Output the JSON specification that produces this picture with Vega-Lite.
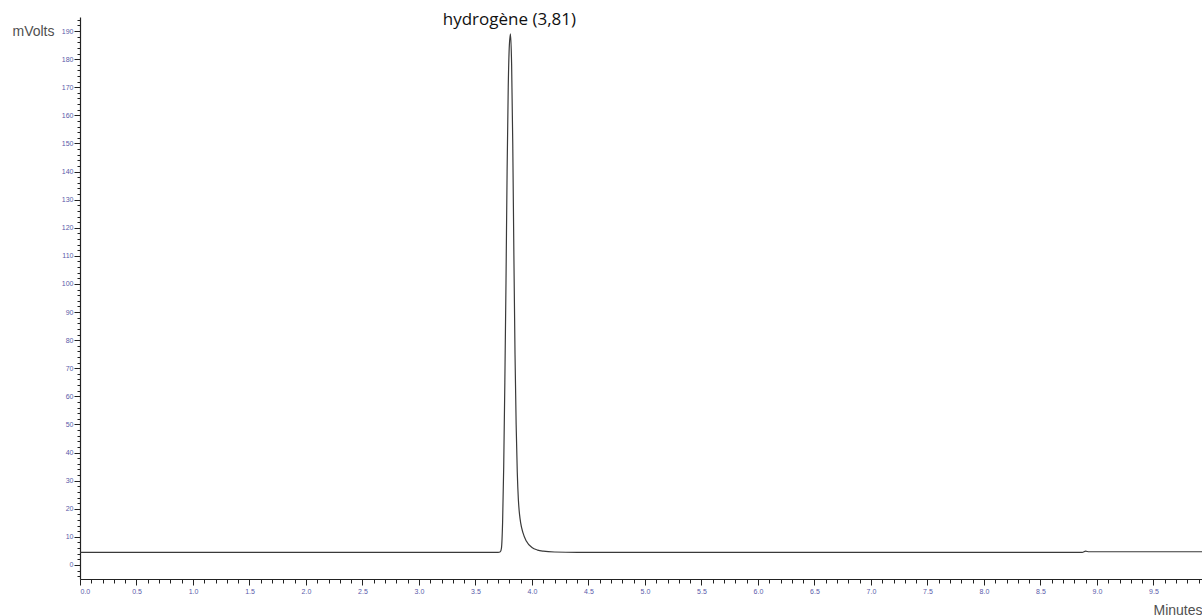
{
  "$schema": "https://vega.github.io/schema/vega-lite/v6.json",
  "width": 1122,
  "height": 562,
  "autosize": "none",
  "padding": {"left": 80, "top": 17, "right": 0, "bottom": 37},
  "background": "white",
  "config": {"view": {"stroke": null}},
  "datasets": {"trace": [
    {"t": 0.0, "mv": 4.5},
    {"t": 1.0, "mv": 4.5},
    {"t": 2.0, "mv": 4.5},
    {"t": 3.0, "mv": 4.5},
    {"t": 3.7, "mv": 4.5},
    {"t": 3.72, "mv": 4.7},
    {"t": 3.73, "mv": 6},
    {"t": 3.74, "mv": 15},
    {"t": 3.75, "mv": 35},
    {"t": 3.76, "mv": 65},
    {"t": 3.77, "mv": 100},
    {"t": 3.78, "mv": 140},
    {"t": 3.79, "mv": 170},
    {"t": 3.80, "mv": 185},
    {"t": 3.81, "mv": 189},
    {"t": 3.82, "mv": 178},
    {"t": 3.83, "mv": 150},
    {"t": 3.84, "mv": 110},
    {"t": 3.85, "mv": 75},
    {"t": 3.86, "mv": 50},
    {"t": 3.87, "mv": 33},
    {"t": 3.88, "mv": 23},
    {"t": 3.89, "mv": 18},
    {"t": 3.90, "mv": 15},
    {"t": 3.92, "mv": 11.5},
    {"t": 3.95, "mv": 8.5},
    {"t": 4.0, "mv": 6.2},
    {"t": 4.05, "mv": 5.3},
    {"t": 4.1, "mv": 4.9},
    {"t": 4.2, "mv": 4.6},
    {"t": 4.4, "mv": 4.5},
    {"t": 6.0, "mv": 4.5},
    {"t": 8.0, "mv": 4.5},
    {"t": 8.87, "mv": 4.5},
    {"t": 8.9, "mv": 4.9},
    {"t": 8.93, "mv": 4.7},
    {"t": 9.93, "mv": 4.7}
  ],
  "labels": [{"t": 3.80, "mv": 194, "label": "hydrogène (3,81)"}]},
  "layer": [
    {
      "data": {"name": "trace"},
      "mark": {"type": "line", "opacity": 0},
      "encoding": {
        "x": {"field": "t", "type": "quantitative",
          "scale": {"domain": [0, 9.93], "nice": false, "zero": false},
          "axis": {"orient": "bottom", "title": null, "labels": false, "domain": false, "grid": false,
            "values": [0.1,0.2,0.3,0.4,0.6,0.7,0.8,0.9,1.1,1.2,1.3,1.4,1.6,1.7,1.8,1.9,2.1,2.2,2.3,2.4,2.6,2.7,2.8,2.9,3.1,3.2,3.3,3.4,3.6,3.7,3.8,3.9,4.1,4.2,4.3,4.4,4.6,4.7,4.8,4.9,5.1,5.2,5.3,5.4,5.6,5.7,5.8,5.9,6.1,6.2,6.3,6.4,6.6,6.7,6.8,6.9,7.1,7.2,7.3,7.4,7.6,7.7,7.8,7.9,8.1,8.2,8.3,8.4,8.6,8.7,8.8,8.9,9.1,9.2,9.3,9.4,9.6,9.7,9.8,9.9],
            "tickSize": 4, "tickColor": "#222", "tickWidth": 1}},
        "y": {"field": "mv", "type": "quantitative",
          "scale": {"domain": [-5, 195], "nice": false, "zero": false},
          "axis": {"orient": "left", "title": null, "labels": false, "domain": false, "grid": false,
            "values": [-4,-2,2,4,6,8,12,14,16,18,22,24,26,28,32,34,36,38,42,44,46,48,52,54,56,58,62,64,66,68,72,74,76,78,82,84,86,88,92,94,96,98,102,104,106,108,112,114,116,118,122,124,126,128,132,134,136,138,142,144,146,148,152,154,156,158,162,164,166,168,172,174,176,178,182,184,186,188,192,194],
            "tickSize": 3, "tickColor": "#222", "tickWidth": 1}}
      }
    },
    {
      "data": {"name": "trace"},
      "mark": {"type": "line", "color": "#3a3a3a", "strokeWidth": 1.2, "interpolate": "monotone"},
      "encoding": {
        "x": {"field": "t", "type": "quantitative",
          "axis": {"orient": "bottom", "grid": false,
            "values": [0,0.5,1,1.5,2,2.5,3,3.5,4,4.5,5,5.5,6,6.5,7,7.5,8,8.5,9,9.5],
            "format": ".1f", "tickSize": 6, "tickColor": "#222", "domainColor": "#222", "domainWidth": 1.2,
            "labelFont": "Liberation Sans", "labelFontSize": 7, "labelColor": "#5a5aaa", "labelPadding": 2,
            "title": "Minutes", "titleFont": "Liberation Sans", "titleFontSize": 14, "titleFontWeight": "normal",
            "titleColor": "#505050", "titleAnchor": null, "titleX": 1122, "titleY": 31, "titleAlign": "right", "titleBaseline": "middle"}},
        "y": {"field": "mv", "type": "quantitative",
          "axis": {"orient": "left", "grid": false,
            "values": [0,10,20,30,40,50,60,70,80,90,100,110,120,130,140,150,160,170,180,190],
            "tickSize": 6, "tickColor": "#222", "domainColor": "#222", "domainWidth": 1.2,
            "labelFont": "Liberation Sans", "labelFontSize": 7, "labelColor": "#5a5aaa", "labelPadding": 1,
            "title": "mVolts", "titleFont": "Liberation Sans", "titleFontSize": 14, "titleFontWeight": "normal",
            "titleColor": "#505050", "titleAngle": 0, "titleX": -47, "titleY": 14, "titleAlign": "center", "titleBaseline": "middle"}}
      }
    },
    {
      "data": {"name": "labels"},
      "mark": {"type": "text", "font": "Open Sans", "fontSize": 17, "fontWeight": "normal", "color": "#111", "align": "center", "baseline": "middle", "clip": false},
      "encoding": {
        "x": {"field": "t", "type": "quantitative", "axis": null},
        "y": {"field": "mv", "type": "quantitative", "axis": null},
        "text": {"field": "label"}
      }
    }
  ],
  "resolve": {"axis": {"x": "independent", "y": "independent"}}
}
